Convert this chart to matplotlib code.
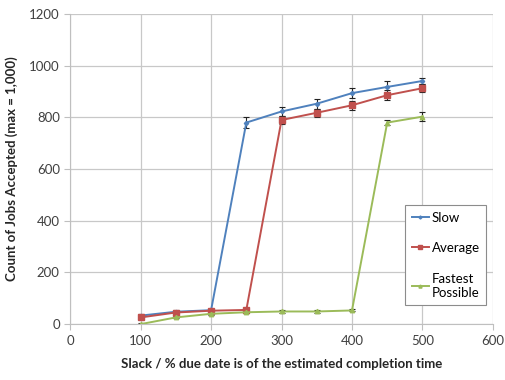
import matplotlib.pyplot as plt
from matplotlib.lines import Line2D
import numpy as np

plt.rcParams['font.family'] = ['Lato', 'DejaVu Sans']

# slack values (% of estimated completion time)
slack = [100, 150, 200, 250, 300, 350, 400, 450, 500]

slow = [33, 48, 54, 780, 823, 853, 894, 918, 941]
slow_err = [6, 5, 5, 20, 18, 19, 19, 23, 12]

average = [26, 45, 52, 55, 790, 818, 847, 886, 913]
average_err = [5, 5, 5, 5, 15, 15, 17, 19, 15]

fastest = [0, 26, 40, 46, 49, 49, 53, 780, 803]
fastest_err = [3, 4, 4, 4, 4, 4, 4, 10, 18]

series = [
    ('Slow', slow, slow_err, '#4F81BD', 'D', 2.2),
    ('Average', average, average_err, '#C0504D', 's', 3.8),
    ('Fastest\nPossible', fastest, fastest_err, '#9BBB59', '^', 3.2),
]

fig = plt.figure(figsize=(5.05, 3.8), dpi=100)
ax = fig.add_axes([0.139, 0.147, 0.837, 0.816])

handles = []
for name, vals, err, col, mk, ms in series:
    ax.errorbar(slack, vals, yerr=err, color=col, marker=mk, markersize=ms,
                linewidth=1.4, ecolor='#222222', elinewidth=0.8, capsize=2,
                capthick=0.8)
    handles.append(Line2D([], [], color=col, marker=mk, markersize=ms * 0.7,
                          linewidth=1.4, label=name))

ax.set_xlim(0, 600)
ax.set_ylim(0, 1200)
ax.set_xticks(np.arange(0, 601, 100))
ax.set_yticks(np.arange(0, 1201, 200))
ax.grid(True, color='#c8c8c8', linewidth=0.9)
ax.set_axisbelow(True)
for s in ['top', 'right']:
    ax.spines[s].set_visible(False)
for s in ['left', 'bottom']:
    ax.spines[s].set_color('#bfbfbf')
ax.tick_params(colors='#bfbfbf', labelcolor='#404040', labelsize=9.5, length=4)

ax.set_xlabel('Slack / % due date is of the estimated completion time',
              fontsize=9.5, fontweight='bold', color='#262626', labelpad=8)
ax.set_ylabel('Count of Jobs Accepted (max = 1,000)',
              fontsize=9.5, fontweight='bold', color='#262626', labelpad=8)

leg = ax.legend(handles=handles, loc='lower right', bbox_to_anchor=(1.0, 0.04),
                fontsize=9.5, fancybox=False, edgecolor='#8c8c8c', framealpha=1,
                labelspacing=1.4, handlelength=1.3, handletextpad=0.2,
                borderpad=0.5)
leg.get_frame().set_linewidth(0.8)

fig.savefig('out.png', dpi=100)
